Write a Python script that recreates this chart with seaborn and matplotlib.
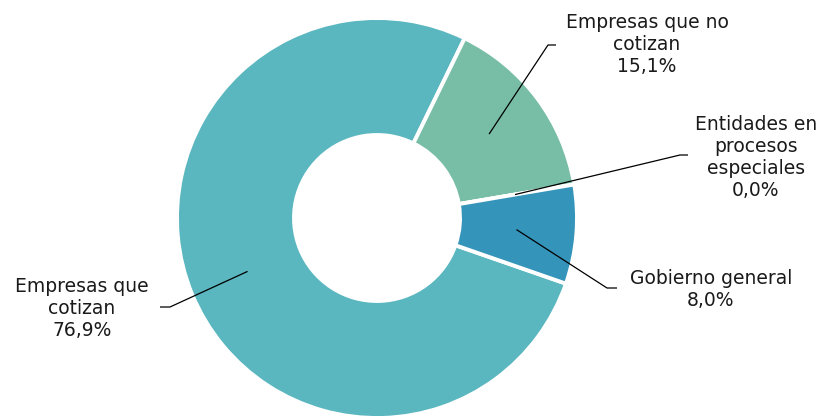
import numpy as np
import matplotlib as mpl
from matplotlib import pyplot as plt
import seaborn as sns
sns.set_theme(style="white")
plt.rcParams['font.family'] = ['DejaVu Sans']

labels = ["Empresas que\ncotizan", "Empresas que no\ncotizan", "Entidades en\nprocesos\nespeciales", "Gobierno general"]
values = [76.9, 15.1, 0.0, 8.0]
colors = ["#5AB6BF", "#78BEA6", "#3A8FB7", "#3594BA"]

# label centres and leader elbows, in pixel coords (y from top)
text_pos = [(82, 308), (647, 45), (756, 157), (711, 289)]
elbows = [((170, 307), (160, 307)), ((548, 45), (556, 45)),
          ((680, 155), (688, 155)), ((607, 288), (617, 288))]

W, H = 823, 416
fig = plt.figure(figsize=(W / 100, H / 100), dpi=100)
ax = fig.add_axes([0, 0, 1, 1])

cx, cy, R = 377, H - 218, 200
wedges, _ = ax.pie(values, colors=colors, startangle=-19.16, counterclock=False,
                   radius=R, center=(cx, cy), frame=True,
                   wedgeprops=dict(width=117, edgecolor='white', linewidth=2.8))
ax.set_xlim(0, W)
ax.set_ylim(0, H)
ax.set_aspect('equal')
ax.axis('off')

for w, lab, val, (tx, ty), (e1, e2) in zip(wedges, labels, values, text_pos, elbows):
    mid = np.deg2rad((w.theta1 + w.theta2) / 2)
    ax_, ay_ = cx + 0.7 * R * np.cos(mid), cy + 0.7 * R * np.sin(mid)
    xs = [ax_, e1[0], e2[0]]
    ys = [ay_, H - e1[1], H - e2[1]]
    ax.plot(xs, ys, color='black', linewidth=0.9, solid_capstyle='butt')
    pct = f"{val:.1f}%".replace('.', ',')
    ax.text(tx, H - ty, f"{lab}\n{pct}", ha='center', va='center', fontsize=13.5,
            color='#1a1a1a', linespacing=1.2)

fig.savefig('out.png', dpi=100)
